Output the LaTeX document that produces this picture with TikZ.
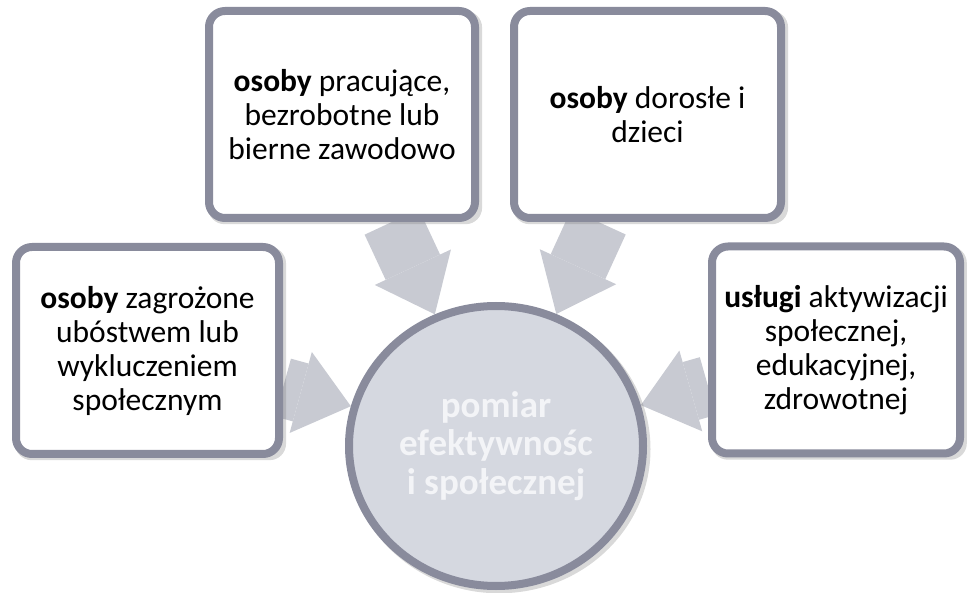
\documentclass[tikz,border=0pt]{standalone}
\usepackage{fontspec}
\setmainfont{Carlito}
\usetikzlibrary{arrows.meta,shapes.geometric,shadows,backgrounds}
\definecolor{rim}{RGB}{137,139,156}
\definecolor{hubfill}{RGB}{213,216,224}
\definecolor{flowgray}{RGB}{200,202,210}
\definecolor{hubtext}{RGB}{243,244,247}

\begin{document}
\begin{tikzpicture}[
        x=1pt, y=-1pt,
        box/.style={draw=rim, line width=8pt, fill=white, rounded corners=16pt,
          align=center, inner sep=0pt, minimum height=207pt,
          font=\fontsize{31.5}{34}\selectfont,
          drop shadow={shadow xshift=3pt, shadow yshift=-3pt, shadow scale=1.03, opacity=0.3}},
        hub/.style={ellipse, draw=rim, line width=8pt, fill=hubfill,
          minimum width=294pt, minimum height=280pt, inner sep=0pt,
          align=center, text=hubtext, font=\bfseries\fontsize{37}{38.5}\selectfont,
          drop shadow={shadow xshift=3pt, shadow yshift=-3pt, shadow scale=1.03, opacity=0.3}},
        flow/.style={draw=flowgray, line width=60pt,
          -{Triangle[width=84pt, length=52pt, line width=0pt]}}
    ]
    \useasboundingbox (0,0) rectangle (970,593);

    % Centre: the measured goal
    \node[hub] (C) at (496,446) {pomiar\\efektywnośc\\i społecznej};

    % Four boxes round it
    \node[box, minimum width=263pt] (L) at (147.5,350.5)
      {\textbf{osoby} zagrożone\\ubóstwem lub\\wykluczeniem\\społecznym};
    \node[box, minimum width=266pt] (T1) at (342,114.5)
      {\textbf{osoby} pracujące,\\bezrobotne lub\\bierne zawodowo};
    \node[box, minimum width=267pt] (T2) at (647.5,114.5)
      {\textbf{osoby} dorosłe i\\dzieci};
    \node[box, minimum width=248pt] (R) at (836,350)
      {\textbf{usługi} aktywizacji\\społecznej,\\edukacyjnej,\\zdrowotnej};

    % Converging arrows, behind everything
    \begin{scope}[on background layer]
        \draw[flow] (L) -- (C);
        \draw[flow] (T1) -- (C);
        \draw[flow] (T2) -- (C);
        \draw[flow] (R) -- (C);
    \end{scope}
\end{tikzpicture}
\end{document}
